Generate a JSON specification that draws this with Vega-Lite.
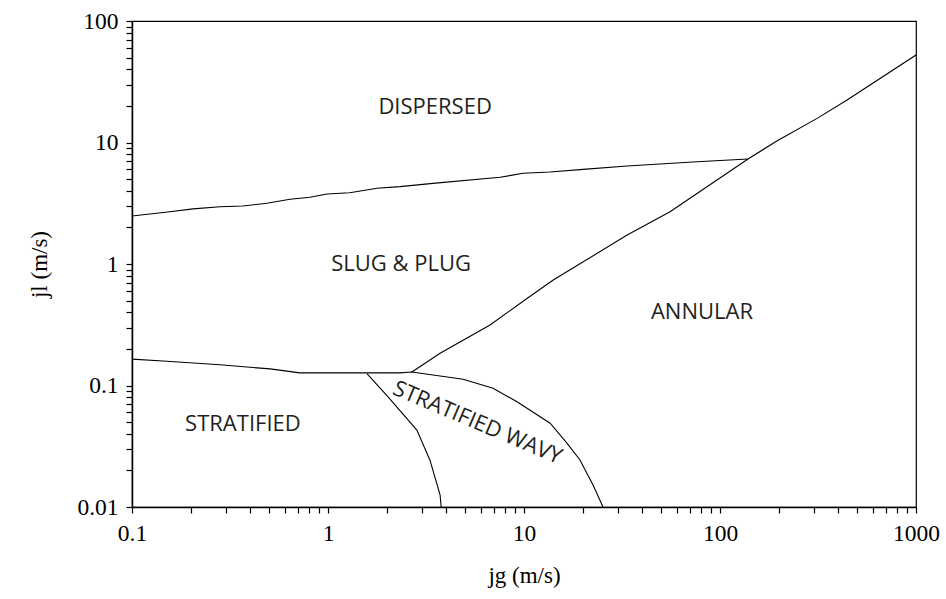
{
  "$schema": "https://vega.github.io/schema/vega-lite/v6.json",
  "autosize": "none",
  "width": 784,
  "height": 486,
  "padding": {"left": 132, "top": 21, "right": 30, "bottom": 92},
  "background": "white",
  "config": {
    "view": {"stroke": "black", "strokeWidth": 1.2},
    "axis": {
      "domainColor": "black", "domainWidth": 1.5, "tickColor": "black", "tickWidth": 1.2,
      "tickSize": 6, "grid": false, "labelFont": "Liberation Serif", "labelFontSize": 23.5,
      "labelColor": "black", "titleFont": "Liberation Serif", "titleFontSize": 23,
      "titleFontWeight": "normal", "titleColor": "black", "labelOverlap": false, "labelFlush": false
    }
  },
  "datasets": {
    "lines": [
      {"seg": "A", "o": 1, "jg": 0.1, "jl": 2.48},
      {"seg": "A", "o": 2, "jg": 0.156, "jl": 2.69},
      {"seg": "A", "o": 3, "jg": 0.205, "jl": 2.84},
      {"seg": "A", "o": 4, "jg": 0.281, "jl": 2.96},
      {"seg": "A", "o": 5, "jg": 0.368, "jl": 3.0},
      {"seg": "A", "o": 6, "jg": 0.488, "jl": 3.16},
      {"seg": "A", "o": 7, "jg": 0.64, "jl": 3.41},
      {"seg": "A", "o": 8, "jg": 0.809, "jl": 3.54},
      {"seg": "A", "o": 9, "jg": 0.989, "jl": 3.77},
      {"seg": "A", "o": 10, "jg": 1.29, "jl": 3.86},
      {"seg": "A", "o": 11, "jg": 1.78, "jl": 4.2},
      {"seg": "A", "o": 12, "jg": 2.33, "jl": 4.33},
      {"seg": "A", "o": 13, "jg": 3.43, "jl": 4.61},
      {"seg": "A", "o": 14, "jg": 7.55, "jl": 5.17},
      {"seg": "A", "o": 15, "jg": 9.89, "jl": 5.58},
      {"seg": "A", "o": 16, "jg": 13.6, "jl": 5.72},
      {"seg": "A", "o": 17, "jg": 20.0, "jl": 6.01},
      {"seg": "A", "o": 18, "jg": 33.6, "jl": 6.41},
      {"seg": "A", "o": 19, "jg": 49.4, "jl": 6.65},
      {"seg": "A", "o": 20, "jg": 76.4, "jl": 6.95},
      {"seg": "A", "o": 21, "jg": 139, "jl": 7.31},
      {"seg": "B", "o": 1, "jg": 2.68, "jl": 0.129},
      {"seg": "B", "o": 2, "jg": 3.73, "jl": 0.184},
      {"seg": "B", "o": 3, "jg": 6.71, "jl": 0.315},
      {"seg": "B", "o": 4, "jg": 10.4, "jl": 0.522},
      {"seg": "B", "o": 5, "jg": 14.1, "jl": 0.738},
      {"seg": "B", "o": 6, "jg": 33.6, "jl": 1.73},
      {"seg": "B", "o": 7, "jg": 55.6, "jl": 2.69},
      {"seg": "B", "o": 8, "jg": 139, "jl": 7.31},
      {"seg": "B", "o": 9, "jg": 195, "jl": 10.3},
      {"seg": "B", "o": 10, "jg": 313, "jl": 15.8},
      {"seg": "B", "o": 11, "jg": 445, "jl": 22.4},
      {"seg": "B", "o": 12, "jg": 1000, "jl": 52.5},
      {"seg": "C", "o": 1, "jg": 0.1, "jl": 0.165},
      {"seg": "C", "o": 2, "jg": 0.144, "jl": 0.159},
      {"seg": "C", "o": 3, "jg": 0.281, "jl": 0.148},
      {"seg": "C", "o": 4, "jg": 0.506, "jl": 0.137},
      {"seg": "C", "o": 5, "jg": 0.719, "jl": 0.127},
      {"seg": "C", "o": 6, "jg": 2.33, "jl": 0.127},
      {"seg": "C", "o": 7, "jg": 2.68, "jl": 0.129},
      {"seg": "C", "o": 8, "jg": 4.89, "jl": 0.1125},
      {"seg": "C", "o": 9, "jg": 6.95, "jl": 0.0948},
      {"seg": "C", "o": 10, "jg": 9.21, "jl": 0.0736},
      {"seg": "C", "o": 11, "jg": 13.6, "jl": 0.0489},
      {"seg": "C", "o": 12, "jg": 16.6, "jl": 0.0334},
      {"seg": "C", "o": 13, "jg": 19.3, "jl": 0.0244},
      {"seg": "C", "o": 14, "jg": 22.5, "jl": 0.0152},
      {"seg": "C", "o": 15, "jg": 25.3, "jl": 0.01},
      {"seg": "D", "o": 1, "jg": 1.58, "jl": 0.125},
      {"seg": "D", "o": 2, "jg": 2.02, "jl": 0.0809},
      {"seg": "D", "o": 3, "jg": 2.84, "jl": 0.043},
      {"seg": "D", "o": 4, "jg": 3.31, "jl": 0.0244},
      {"seg": "D", "o": 5, "jg": 3.73, "jl": 0.0126},
      {"seg": "D", "o": 6, "jg": 3.78, "jl": 0.01}
    ],
    "labels": [
      {"text": "DISPERSED", "jg": 3.52, "jl": 19.6, "angle": 0},
      {"text": "SLUG & PLUG", "jg": 2.36, "jl": 1.0, "angle": 0},
      {"text": "ANNULAR", "jg": 80.9, "jl": 0.403, "angle": 0},
      {"text": "STRATIFIED", "jg": 0.368, "jl": 0.0482, "angle": 0},
      {"text": "STRATIFIED WAVY", "jg": 5.8, "jl": 0.0495, "angle": 23}
    ]
  },
  "layer": [
    {
      "data": {"name": "lines"},
      "mark": {"type": "line", "color": "black", "strokeWidth": 1.1, "clip": true},
      "encoding": {
        "x": {
          "field": "jg", "type": "quantitative",
          "scale": {"type": "log", "domain": [0.1, 1000], "nice": false},
          "axis": {
            "title": "jg (m/s)", "titlePadding": 20,
            "values": [0.1,0.2,0.3,0.4,0.5,0.6,0.7,0.8,0.9,1,2,3,4,5,6,7,8,9,10,20,30,40,50,60,70,80,90,100,200,300,400,500,600,700,800,900,1000],
            "format": "~g", "labelPadding": 8,
            "labelExpr": "test(/^(0\\.1|1|10|100|1000)$/, datum.label) ? datum.label : ''"
          }
        },
        "y": {
          "field": "jl", "type": "quantitative",
          "scale": {"type": "log", "domain": [0.01, 100], "nice": false},
          "axis": {
            "title": "jl (m/s)", "titlePadding": 25,
            "values": [0.01,0.02,0.03,0.04,0.05,0.06,0.07,0.08,0.09,0.1,0.2,0.3,0.4,0.5,0.6,0.7,0.8,0.9,1,2,3,4,5,6,7,8,9,10,20,30,40,50,60,70,80,90,100],
            "format": "~g", "labelPadding": 8,
            "labelExpr": "test(/^(0\\.01|0\\.1|1|10|100)$/, datum.label) ? datum.label : ''"
          }
        },
        "detail": {"field": "seg"},
        "order": {"field": "o"}
      }
    },
    {
      "data": {"name": "labels"},
      "mark": {"type": "text", "font": "Open Sans", "fontSize": 22, "color": "#231f20", "baseline": "middle", "align": "center"},
      "encoding": {
        "x": {"field": "jg", "type": "quantitative"},
        "y": {"field": "jl", "type": "quantitative"},
        "text": {"field": "text"},
        "angle": {"field": "angle", "type": "quantitative", "scale": null}
      }
    }
  ]
}
